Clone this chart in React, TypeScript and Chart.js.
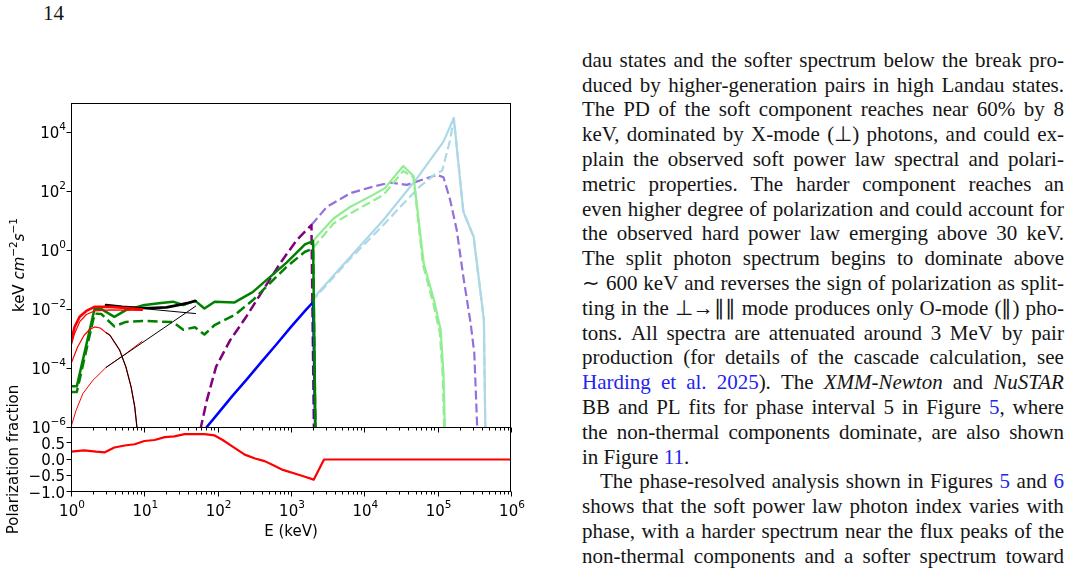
import React, { useEffect, useRef } from "react";
import { Chart, registerables } from "chart.js";

Chart.register(...registerables);

// ---------- cascade model spectra (E in keV, flux in keV cm^-2 s^-1) ----------
const cascadeE = [1.0, 1.2, 2.1, 2.6, 3.9, 5.6, 9.5, 15.8, 24.5, 34, 49, 66, 91, 170, 300, 510, 870, 1550, 2000, 2200];
const cascadeSolid = [2.4e-5, 2.4e-5, 1.05e-2, 1.0e-2, 5.5e-3, 9.3e-3, 1.35e-2, 1.58e-2, 1.8e-2, 1.38e-2, 1.95e-2, 1.05e-2, 1.8e-2, 1.7e-2, 3.8e-2, 0.12, 0.38, 1.58, 2.04, 1e-8];
const cascadeDashed = [1.55e-5, 1.55e-5, 7.1e-3, 6.8e-3, 2.6e-3, 3.7e-3, 4.0e-3, 3.8e-3, 3.7e-3, 2.0e-3, 2.45e-3, 1.38e-3, 2.9e-3, 6.3e-3, 2.0e-2, 7.4e-2, 0.275, 0.89, 1.15, 1e-8];

const blueE = [66, 100, 158, 251, 398, 631, 1000, 1585, 2000, 2200];
const blueF = [8e-7, 2.8e-6, 1.12e-5, 4.2e-5, 1.66e-4, 6.3e-4, 2.5e-3, 9.3e-3, 1.74e-2, 1e-8];

const purpleE = [58, 71, 95, 148, 245, 417, 708, 1200, 1900, 2100];
const purpleF = [8e-7, 7.9e-6, 1.1e-4, 8.9e-4, 5.5e-3, 4.5e-2, 0.355, 2.24, 7.2, 1e-8];

// split-photon spectra above the break
const splitPurpleE = [1900, 3090, 6460, 13200, 22400, 38000, 64600, 97700, 120000, 148000, 182000, 224000, 282000, 316000, 347000];
const splitPurpleF = [7.2, 30, 87, 145, 200, 166, 257, 363, 302, 51, 4.9, 0.126, 3.2e-3, 3.2e-4, 8e-7];

const splitGreenE = [2000, 3800, 6460, 13200, 19100, 33900, 46800, 64600, 89100, 110000, 120000, 126000];
const splitGreenF = [2.1, 12, 30, 76, 129, 724, 331, 0.355, 2.0e-2, 1.95e-3, 6.3e-5, 6e-7];
const splitGreenDashE = [2000, 3800, 6460, 18200, 33900, 46800, 63100, 87100, 107000, 117000, 123000];
const splitGreenDashF = [1.2, 8.1, 17.8, 76, 490, 302, 0.316, 1.6e-2, 1.6e-3, 6.3e-5, 6e-7];

const splitBlueE = [1900, 6460, 18200, 52500, 120000, 166000, 224000, 309000, 427000, 447000];
const splitBlueF = [2.0e-2, 0.6, 10.7, 282, 4900, 30900, 20.4, 2.9, 4.3e-3, 6e-7];
const splitBlueDashE = [1900, 6310, 18200, 31600, 56200, 93300, 115000, 148000, 166000, 224000, 309000, 427000, 447000];
const splitBlueDashF = [1.78e-2, 0.5, 7.2, 31.6, 141, 389, 500, 5600, 30900, 20.4, 2.9, 4.3e-3, 6e-7];

// ---------- XMM-Newton BB + PL fit ----------
const xmmE = [1.0, 1.12, 1.31, 1.62, 2.09, 3.4, 5.6, 9.3];
const xmmTotal = [7.8e-4, 2.5e-3, 5.5e-3, 8.7e-3, 1.2e-2, 1.2e-2, 1.1e-2, 1.0e-2];
const xmmSoftPL = [5.5e-4, 1.5e-3, 3.7e-3, 6.6e-3, 8.7e-3, 9.5e-3, 9.3e-3, 9.1e-3];
const xmmHardE = [1.0, 1.17, 1.45, 2.0, 3.0, 5.6, 9.3];
const xmmHardPL = [1e-6, 3.6e-6, 1.35e-5, 3.9e-5, 1.05e-4, 3.1e-4, 8.1e-4];
const bbE = [1.0, 1.23, 1.51, 1.78, 2.09, 2.5, 3.0, 3.4, 4.6, 5.6, 6.6, 7.4, 8.0];
const bbF = [1.4e-4, 5.2e-4, 1.3e-3, 2.0e-3, 2.5e-3, 2.3e-3, 1.6e-3, 1.3e-3, 4.1e-4, 1.1e-4, 2.3e-5, 4.8e-6, 8e-7];

// ---------- NuSTAR BB + PL fit ----------
const nuE = [3, 5, 8, 12, 20, 30, 40, 50];
const nuTotal = [1.38e-2, 1.2e-2, 1.12e-2, 1.1e-2, 1.15e-2, 1.4e-2, 1.65e-2, 1.9e-2];
const nuPLE = [3, 50];
const nuSoftPL = [1.38e-2, 7.1e-3];
const nuHardPL = [1.05e-4, 1.26e-2];
const nuBBE = [3.0, 3.4, 4.6, 5.6, 6.6, 7.4, 8.0];
const nuBBF = [1.6e-3, 1.3e-3, 4.1e-4, 1.1e-4, 2.3e-5, 4.8e-6, 8e-7];

// ---------- polarization fraction ----------
const pfE = [1, 1.5, 2.2, 2.9, 3.9, 5.4, 7.4, 10, 13.8, 19, 25.7, 35.5, 66, 91, 117, 162, 234, 324, 437, 603, 776, 1122, 1549, 2040, 2820, 1e6];
const pfVal = [0.24, 0.28, 0.24, 0.22, 0.37, 0.43, 0.47, 0.57, 0.6, 0.69, 0.71, 0.78, 0.78, 0.74, 0.6, 0.39, 0.15, 0.03, -0.05, -0.2, -0.32, -0.43, -0.53, -0.62, 0.0, 0.0];

// ---------- axes ----------
const energyTicks = [1, 10, 100, 1e3, 1e4, 1e5, 1e6];
const energyTickExp = ["0", "1", "2", "3", "4", "5", "6"];
const fluxTicks = [1e-6, 1e-4, 1e-2, 1, 1e2, 1e4];
const fluxTickExp = ["\u22126", "\u22124", "\u22122", "0", "2", "4"];
const pfTicks = [-1, -0.5, 0, 0.5];
const pfTickLabels = ["\u22121.0", "\u22120.5", "0.0", "0.5"];

// ---------- page text ----------
const pageNumber = "14";
const bodyLines = [
  "dau states and the softer spectrum below the break pro-",
  "duced by higher-generation pairs in high Landau states.",
  "The PD of the soft component reaches near 60% by 8",
  "keV, dominated by X-mode (\u22a5) photons, and could ex-",
  "plain the observed soft power law spectral and polari-",
  "metric properties. The harder component reaches an",
  "even higher degree of polarization and could account for",
  "the observed hard power law emerging above 30 keV.",
  "The split photon spectrum begins to dominate above",
  "\u223c 600 keV and reverses the sign of polarization as split-",
  "ting in the \u22a5\u2192\u2225\u2225 mode produces only O-mode (\u2225) pho-",
  "tons. All spectra are attenuated around 3 MeV by pair",
  "production (for details of the cascade calculation, see",
  "[Harding] [et] [al.] [2025]). The _XMM-Newton_ and _NuSTAR_",
  "BB and PL fits for phase interval 5 in Figure [5], where",
  "the non-thermal components dominate, are also shown",
  "in Figure [11].",
  "The phase-resolved analysis shown in Figures [5] and [6]",
  "shows that the soft power law photon index varies with",
  "phase, with a harder spectrum near the flux peaks of the",
  "non-thermal components and a softer spectrum toward",
];
const paragraphEnds = [16];
const paragraphStarts = [17];

const FONT = '"DejaVu Sans", sans-serif';
const LINK = "#2424ee";

const series = (xs: number[], ys: number[]) => xs.map((x, i) => ({ x, y: ys[i] }));

function line(xs: number[], ys: number[], color: string, width: number, dash: number[] = []) {
  return {
    data: series(xs, ys),
    borderColor: color,
    backgroundColor: color,
    borderWidth: width,
    borderDash: dash,
    borderCapStyle: dash.length ? "butt" : "round",
    borderJoinStyle: "round",
    pointRadius: 0,
    pointHoverRadius: 0,
    fill: false,
    tension: 0,
    clip: 0,
  } as any;
}

// "10" with a raised exponent, matplotlib style
function drawPow(ctx: CanvasRenderingContext2D, exp: string, x: number, baseline: number, align: "center" | "right") {
  const size = 15;
  ctx.font = `${size}px ${FONT}`;
  const wb = ctx.measureText("10").width;
  ctx.font = `${size * 0.7}px ${FONT}`;
  const we = ctx.measureText(exp).width;
  const total = wb + we;
  const x0 = align === "center" ? x - total / 2 : x - total;
  ctx.textAlign = "left";
  ctx.textBaseline = "alphabetic";
  ctx.font = `${size}px ${FONT}`;
  ctx.fillText("10", x0, baseline);
  ctx.font = `${size * 0.7}px ${FONT}`;
  ctx.fillText(exp, x0 + wb, baseline - 8);
}

function xTicks(ctx: CanvasRenderingContext2D, scale: any, yLine: number) {
  ctx.beginPath();
  for (let d = 0; d < energyTicks.length; d++) {
    const px = Math.round(scale.getPixelForValue(energyTicks[d])) + 0.5;
    ctx.moveTo(px, yLine);
    ctx.lineTo(px, yLine + 5);
    if (d < energyTicks.length - 1) {
      for (let k = 2; k <= 9; k++) {
        const pm = Math.round(scale.getPixelForValue(energyTicks[d] * k)) + 0.5;
        ctx.moveTo(pm, yLine);
        ctx.lineTo(pm, yLine + 3);
      }
    }
  }
  ctx.stroke();
}

const spectrumAxes = {
  id: "spectrumAxes",
  afterDraw(chart: any) {
    const { ctx, chartArea: a, scales } = chart;
    ctx.save();
    ctx.strokeStyle = "#000";
    ctx.fillStyle = "#000";
    ctx.lineWidth = 1;
    ctx.strokeRect(a.left + 0.5, a.top + 0.5, a.right - a.left - 1, a.bottom - a.top);
    // flux ticks and labels
    ctx.beginPath();
    fluxTicks.forEach((v) => {
      const py = Math.round(scales.y.getPixelForValue(v)) + 0.5;
      ctx.moveTo(a.left + 0.5, py);
      ctx.lineTo(a.left - 4.5, py);
    });
    ctx.stroke();
    fluxTicks.forEach((v, i) => {
      const py = scales.y.getPixelForValue(v);
      drawPow(ctx, fluxTickExp[i], a.left - 5, py + 5.5, "right");
    });
    xTicks(ctx, scales.x, a.bottom + 0.5);
    // y title: keV cm^-2 s^-1
    const parts: [string, string, number][] = [
      ["keV ", `15px ${FONT}`, 0],
      ["cm", `oblique 15px ${FONT}`, 0],
      ["\u22122", `10.5px ${FONT}`, -7],
      ["s", `oblique 15px ${FONT}`, 0],
      ["\u22121", `10.5px ${FONT}`, -7],
    ];
    let total = 0;
    parts.forEach(([t, f]) => {
      ctx.font = f;
      total += ctx.measureText(t).width;
    });
    ctx.translate(23.5, (a.top + a.bottom) / 2);
    ctx.rotate(-Math.PI / 2);
    let cx = -total / 2;
    ctx.textAlign = "left";
    ctx.textBaseline = "alphabetic";
    parts.forEach(([t, f, dy]) => {
      ctx.font = f;
      ctx.fillText(t, cx, dy);
      cx += ctx.measureText(t).width;
    });
    ctx.restore();
  },
};

const polarAxes = {
  id: "polarAxes",
  afterDraw(chart: any) {
    const { ctx, chartArea: a, scales } = chart;
    ctx.save();
    ctx.strokeStyle = "#000";
    ctx.fillStyle = "#000";
    ctx.lineWidth = 1;
    ctx.strokeRect(a.left + 0.5, a.top + 0.5, a.right - a.left - 1, a.bottom - a.top - 1);
    ctx.beginPath();
    pfTicks.forEach((v) => {
      const py = Math.round(scales.y.getPixelForValue(v)) - 0.5;
      ctx.moveTo(a.left + 0.5, py);
      ctx.lineTo(a.left - 4.5, py);
    });
    ctx.stroke();
    ctx.font = `15px ${FONT}`;
    ctx.textAlign = "right";
    ctx.textBaseline = "alphabetic";
    pfTicks.forEach((v, i) => {
      const py = scales.y.getPixelForValue(v);
      ctx.fillText(pfTickLabels[i], a.left - 6, py + 5.5);
    });
    xTicks(ctx, scales.x, a.bottom - 0.5);
    energyTicks.forEach((v, i) => {
      const px = scales.x.getPixelForValue(v);
      drawPow(ctx, energyTickExp[i], px + 1, a.bottom + 24, "center");
    });
    ctx.font = `15px ${FONT}`;
    ctx.textAlign = "center";
    ctx.fillText("E (keV)", (a.left + a.right) / 2, a.bottom + 44);
    ctx.translate(18, (a.top + a.bottom) / 2);
    ctx.rotate(-Math.PI / 2);
    ctx.fillText("Polarization fraction", 0, 0);
    ctx.restore();
  },
};

const baseOptions = (padTop: number, padBottom: number, y: any) => ({
  responsive: false,
  maintainAspectRatio: false,
  animation: false,
  devicePixelRatio: 1,
  events: [],
  layout: { padding: { left: 71, right: 49, top: padTop, bottom: padBottom } },
  plugins: { legend: { display: false }, tooltip: { enabled: false } },
  scales: {
    x: { type: "logarithmic", min: 1, max: 1e6, display: false },
    y: { ...y, display: false },
  },
});

function Figure() {
  const topRef = useRef<HTMLCanvasElement>(null);
  const botRef = useRef<HTMLCanvasElement>(null);

  useEffect(() => {
    const spectrum = new Chart(topRef.current!, {
      type: "line",
      data: {
        datasets: [
          line(xmmE, xmmTotal, "#ff0000", 2.6),
          line(nuBBE, nuBBF, "#000000", 1),
          line(nuPLE, nuHardPL, "#000000", 1),
          line(nuPLE, nuSoftPL, "#000000", 1),
          line(bbE, bbF, "#ff0000", 1.2),
          line(xmmHardE, xmmHardPL, "#ff0000", 1),
          line(xmmE, xmmSoftPL, "#ff0000", 1.2),
          line(nuE, nuTotal, "#000000", 2.6),
          line(cascadeE, cascadeSolid, "#008000", 2.5),
          line(cascadeE, cascadeDashed, "#008000", 2.5, [10, 4.5]),
          line(blueE, blueF, "#0000ff", 2.5),
          line(purpleE, purpleF, "#800080", 2.5, [10, 4.5]),
          line(splitGreenE, splitGreenF, "#90ee90", 2.2),
          line(splitGreenDashE, splitGreenDashF, "#90ee90", 2.2, [9, 4]),
          line(splitBlueE, splitBlueF, "#add8e6", 2.2),
          line(splitBlueDashE, splitBlueDashF, "#add8e6", 2.2, [9, 4]),
          line(splitPurpleE, splitPurpleF, "#9370db", 2.2, [9, 4]),
        ],
      },
      options: baseOptions(103, 149, { type: "logarithmic", min: 1e-6, max: 1e5 }) as any,
      plugins: [spectrumAxes],
    });

    const polar = new Chart(botRef.current!, {
      type: "line",
      data: { datasets: [line(pfE, pfVal, "#ff0000", 2.2)] },
      options: baseOptions(427, 84, { type: "linear", min: -1, max: 1 }) as any,
      plugins: [polarAxes],
    });

    return () => {
      spectrum.destroy();
      polar.destroy();
    };
  }, []);

  const cv: React.CSSProperties = { position: "absolute", left: 0, top: 0, width: 560, height: 576 };
  return (
    <>
      <canvas ref={topRef} width={560} height={576} style={cv} />
      <canvas ref={botRef} width={560} height={576} style={cv} />
    </>
  );
}

function Word({ text }: { text: string }) {
  const parts: React.ReactNode[] = [];
  const re = /\[([^\]]+)\]|_([^_]+)_|([^\[_]+)/g;
  let m: RegExpExecArray | null;
  let k = 0;
  while ((m = re.exec(text))) {
    if (m[1]) parts.push(<span key={k++} style={{ color: LINK }}>{m[1]}</span>);
    else if (m[2]) parts.push(<i key={k++}>{m[2]}</i>);
    else parts.push(<span key={k++}>{m[3]}</span>);
  }
  return <span>{parts}</span>;
}

export default function App() {
  const textStyle: React.CSSProperties = {
    position: "absolute",
    fontFamily: '"Liberation Serif", serif',
    fontSize: 21,
    lineHeight: "24.8px",
    color: "#151515",
    whiteSpace: "pre",
  };
  return (
    <div
      style={{
        position: "fixed",
        left: 0,
        top: 0,
        width: 1071,
        height: 576,
        overflow: "hidden",
        background: "#ffffff",
      }}
    >
      <div style={{ ...textStyle, left: 43, top: 0.5 }}>{pageNumber}</div>
      <Figure />
      {bodyLines.map((ln, i) => {
        const top = 47.8 + 24.8 * i;
        const indent = paragraphStarts.includes(i) ? 18 : 0;
        const words = ln.split(" ");
        if (paragraphEnds.includes(i)) {
          return (
            <div key={i} style={{ ...textStyle, left: 582, top }}>
              {words.map((w, j) => (
                <React.Fragment key={j}>
                  {j > 0 ? " " : ""}
                  <Word text={w} />
                </React.Fragment>
              ))}
            </div>
          );
        }
        return (
          <div
            key={i}
            style={{
              ...textStyle,
              left: 582 + indent,
              top,
              width: 482 - indent,
              display: "flex",
              justifyContent: "space-between",
            }}
          >
            {words.map((w, j) => (
              <Word key={j} text={w} />
            ))}
          </div>
        );
      })}
    </div>
  );
}
